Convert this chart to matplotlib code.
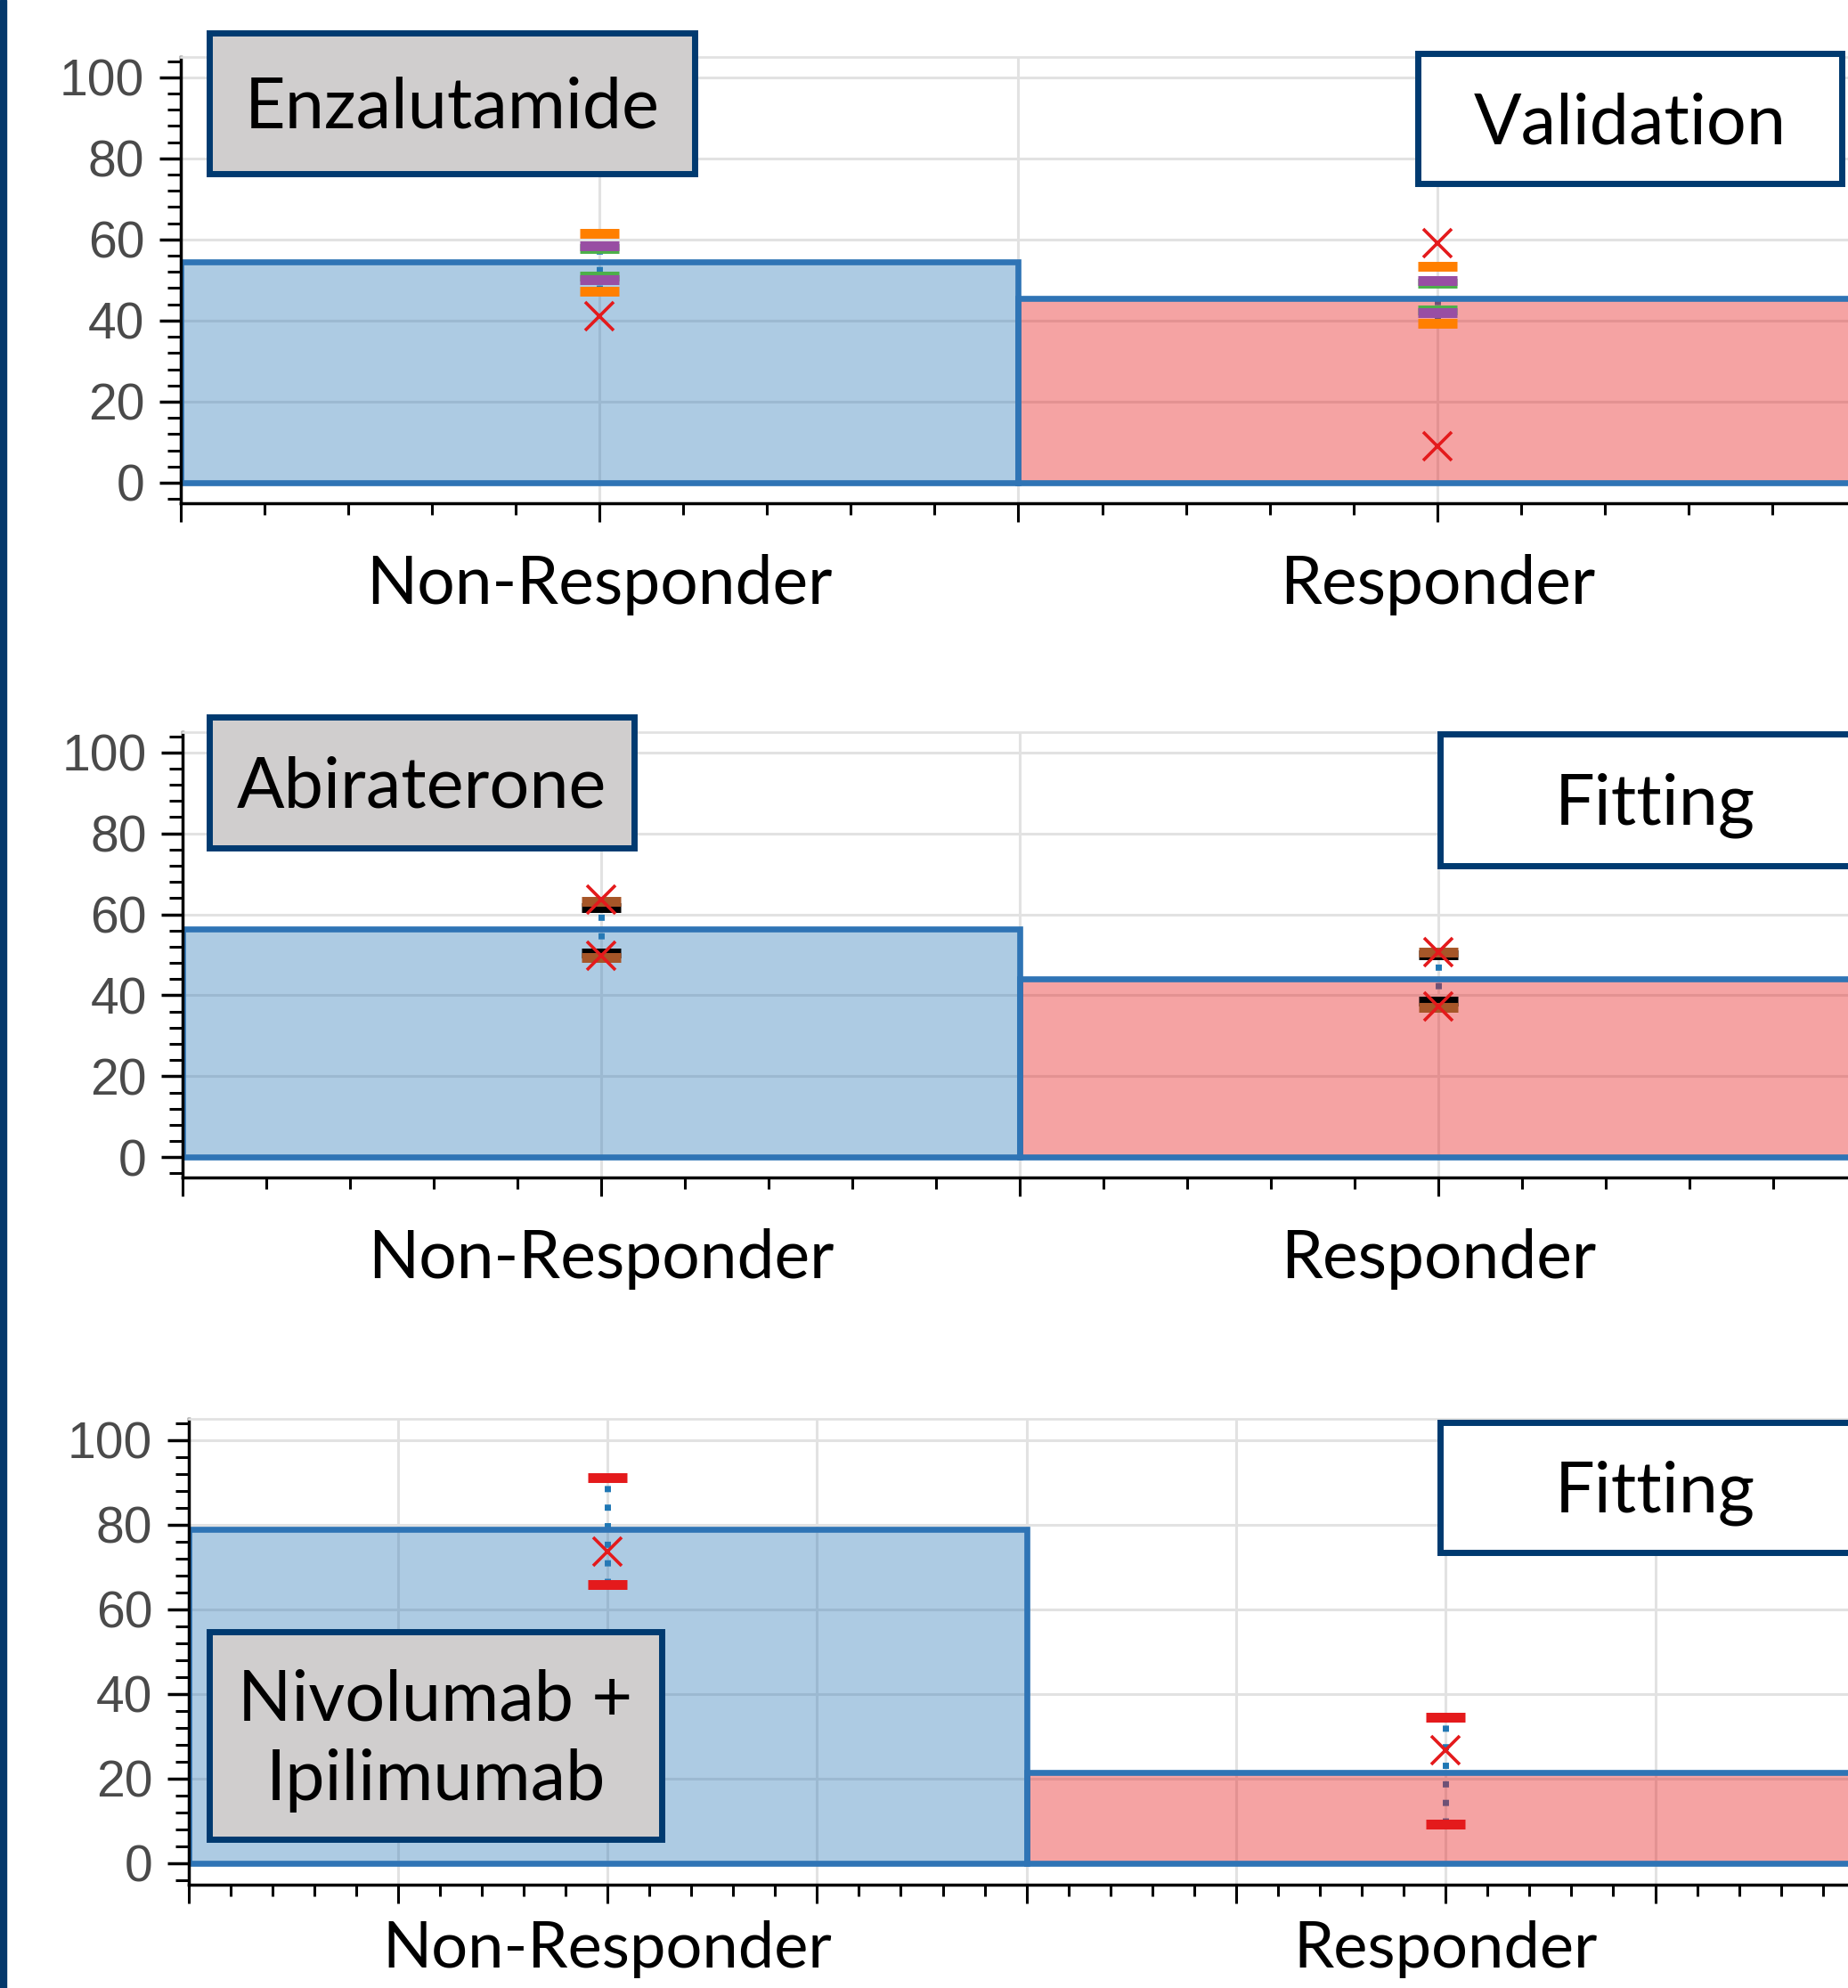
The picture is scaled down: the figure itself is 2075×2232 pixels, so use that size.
import numpy as np
import matplotlib.pyplot as plt
from matplotlib.patches import Rectangle
from matplotlib.ticker import MultipleLocator

categories = ['Non-Responder', 'Responder']

# Enzalutamide (validation)
enza_bar = [54.5, 45.5]
enza_orange_hi = [61.5, 53.4]
enza_orange_lo = [47.3, 39.3]
enza_purple_hi = [58.4, 49.9]
enza_purple_lo = [50.1, 42.0]
enza_green_hi = [57.7, 49.3]
enza_green_lo = [50.9, 42.7]
enza_cross = [[41.1], [59.1, 8.9]]

# Abiraterone (fitting)
abi_bar = [56.4, 44.0]
abi_brown_hi = [63.2, 50.7]
abi_brown_lo = [49.4, 37.0]
abi_black_hi = [61.6, 50.0]
abi_black_lo = [50.5, 38.6]
abi_cross = [[63.6, 49.7], [50.6, 37.2]]

# Nivolumab + Ipilimumab (fitting)
nivo_bar = [79.0, 21.5]
nivo_red_hi = [91.2, 34.5]
nivo_red_lo = [65.9, 9.2]
nivo_cross = [[73.7], [26.7]]

W, H = 2075, 2232
NAVY = '#003a70'
EDGE = '#2f74b5'
FILLS = [(0.204, 0.49, 0.725, 0.4), (0.9, 0.1, 0.1, 0.4)]
plt.rcParams['font.family'] = ['Lato', 'DejaVu Sans']

fig = plt.figure(figsize=(W / 100, H / 100), dpi=100)


def rect(l, t, r, b):
    return [l / W, 1 - b / H, (r - l) / W, (b - t) / H]


def setup(ax, bars, xmax, major, minor, xpad=26, xsize=54):
    x = np.arange(len(categories))
    ax.set_xlim(-0.5, xmax)
    ax.set_ylim(-5, 105)
    ax.set_axisbelow(True)
    ax.grid(True, which='major', color='#e2e2e2', lw=2.2)
    ax.xaxis.set_minor_locator(MultipleLocator(minor))
    ticks = np.arange(-0.5, xmax + 1e-6, major)
    ax.set_xticks(ticks)
    ax.set_xticklabels([categories[int(round(t))] if abs(t - round(t)) < 1e-6 and 0 <= round(t) < len(categories) else ''
                        for t in ticks])
    ax.set_yticks(np.arange(0, 101, 20))
    ax.yaxis.set_minor_locator(MultipleLocator(4))
    ax.tick_params(axis='x', which='major', length=15, width=2.2, pad=xpad, labelsize=xsize, labelcolor='black')
    ax.tick_params(axis='x', which='minor', length=9, width=2.2)
    ax.tick_params(axis='y', which='major', length=17, width=2.5, pad=12, labelsize=41, labelcolor='#4a4a4a')
    ax.tick_params(axis='y', which='minor', length=11, width=2.2)
    for lab in ax.get_yticklabels():
        lab.set_fontfamily('Liberation Sans')
    for s in ['left', 'bottom']:
        ax.spines[s].set_linewidth(2.5)
        ax.spines[s].set_color('black')
    ax.spines['top'].set_color('#e2e2e2')
    ax.spines['top'].set_linewidth(2)
    ax.spines['right'].set_visible(False)
    ax.bar(x, bars, width=1.0, color=FILLS, edgecolor=EDGE, linewidth=4.8, zorder=2)


def caps(ax, hi, lo, color):
    x = np.arange(len(categories))
    ax.plot(x, hi, ls='none', marker='_', ms=31.7, mew=7.9, color=color, zorder=3)
    ax.plot(x, lo, ls='none', marker='_', ms=31.7, mew=7.9, color=color, zorder=3)


def whisker(ax, hi, lo):
    for i in range(len(categories)):
        ax.plot([i, i], [lo[i], hi[i]], color='#1f77b4', lw=5, ls=(0, (1, 2)),
                dash_capstyle='butt', zorder=1)


def crosses(ax, vals):
    for i, v in enumerate(vals):
        ax.plot([i] * len(v), v, ls='none', marker='x', ms=23, mew=2.6, color='#e41a1c', zorder=4)


def label_box(l, t, r, b, text, face):
    fig.patches.append(Rectangle((l / W, 1 - b / H), (r - l) / W, (b - t) / H, transform=fig.transFigure,
                                 facecolor=face, edgecolor=NAVY, lw=5, zorder=10))
    fig.text((l + r) / 2 / W, 1 - ((t + b) / 2 + 6) / H, text, ha='center', va='center', fontsize=57,
             color='black', zorder=11, linespacing=1.3)


# Panel 1
ax1 = fig.add_axes(rect(202.5, 64, 2075, 564.75))
setup(ax1, enza_bar, 1.49, 0.5, 0.1)
whisker(ax1, enza_orange_hi, enza_orange_lo)
caps(ax1, enza_green_hi, enza_green_lo, '#4daf4a')
caps(ax1, enza_purple_hi, enza_purple_lo, '#984ea3')
caps(ax1, enza_orange_hi, enza_orange_lo, '#ff7f00')
crosses(ax1, enza_cross)

# Panel 2
ax2 = fig.add_axes(rect(205, 822, 2075, 1322))
setup(ax2, abi_bar, 1.489, 0.5, 0.1)
whisker(ax2, abi_brown_hi, abi_brown_lo)
caps(ax2, abi_black_hi, abi_black_lo, 'black')
caps(ax2, abi_brown_hi, abi_brown_lo, '#a65628')
crosses(ax2, abi_cross)

# Panel 3
ax3 = fig.add_axes(rect(211.5, 1593, 2075, 2115.75))
setup(ax3, nivo_bar, 1.48, 0.25, 0.05, xpad=14, xsize=52)
whisker(ax3, nivo_red_hi, nivo_red_lo)
caps(ax3, nivo_red_hi, nivo_red_lo, '#e41a1c')
crosses(ax3, nivo_cross)

# annotation boxes
label_box(235, 37, 780, 195, 'Enzalutamide', '#d0cece')
label_box(1592, 60, 2068, 206, 'Validation', 'white')
label_box(235, 805, 712, 952, 'Abiraterone', '#d0cece')
label_box(1617, 824, 2100, 972, 'Fitting', 'white')
label_box(1617, 1597, 2100, 1743, 'Fitting', 'white')
label_box(235, 1832, 743, 2065, 'Nivolumab +\nIpilimumab', '#d0cece')

# navy strip on the left edge
fig.patches.append(Rectangle((0, 0), 7 / W, 1, transform=fig.transFigure, color='#04386b', zorder=12))

fig.savefig('out.png', dpi=100)
